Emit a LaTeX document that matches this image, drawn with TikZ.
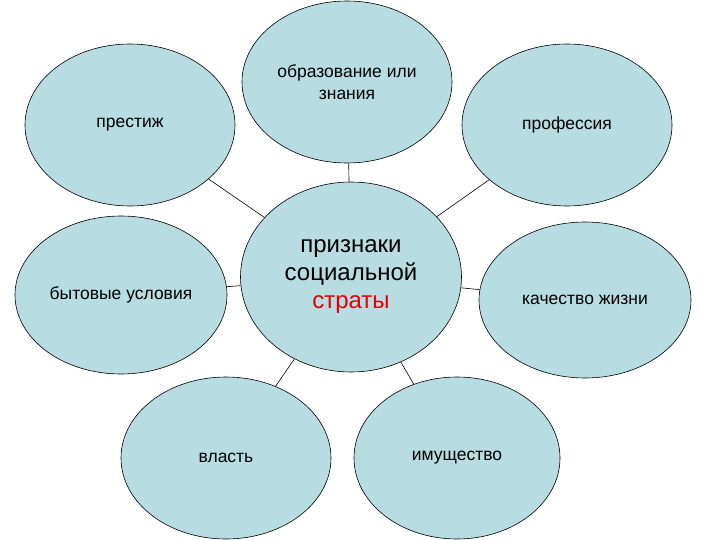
\documentclass[tikz,border=0pt]{standalone}
\usepackage{fontspec}
\setmainfont{Liberation Sans}
\usetikzlibrary{shapes.geometric}
\definecolor{oval}{RGB}{183,220,225}
\definecolor{strata}{RGB}{232,0,0}
\begin{document}
\begin{tikzpicture}[x=1pt, y=-1pt,
  sign/.style={ellipse, draw, line width=0.6pt, fill=oval, inner sep=0pt,
    minimum width=210pt, minimum height=162pt, align=center,
    font=\fontsize{17.5}{21.5}\selectfont},
  hub/.style={sign, minimum width=221pt, minimum height=190pt,
    font=\fontsize{24}{28}\selectfont}]
\useasboundingbox (0,0) rectangle (720,540);

\node[sign] (edu) at (347,82) {образование или\\знания};
\node[sign] (prestige) at (130,125) {престиж};
\node[sign] (job) at (567,125) {профессия};
\node[sign, minimum width=212pt, minimum height=158pt] (home) at (121,295) {бытовые условия};
\node[sign, minimum width=212pt, minimum height=156pt] (life) at (585,300) {качество жизни};
\node[sign] (power) at (226,458) {власть};
\node[sign, minimum width=206pt] (wealth) at (457,458) {имущество};
\node[hub] (strata) at (351,277) {признаки\\социальной\\\textcolor{strata}{страты}};

\draw[line width=0.6pt] (edu) -- (strata);
\draw[line width=0.6pt] (prestige) -- (strata);
\draw[line width=0.6pt] (job) -- (strata);
\draw[line width=0.6pt] (home) -- (strata);
\draw[line width=0.6pt] (life) -- (strata);
\draw[line width=0.6pt] (power) -- (strata);
\draw[line width=0.6pt] (wealth) -- (strata);

\end{tikzpicture}
\end{document}
